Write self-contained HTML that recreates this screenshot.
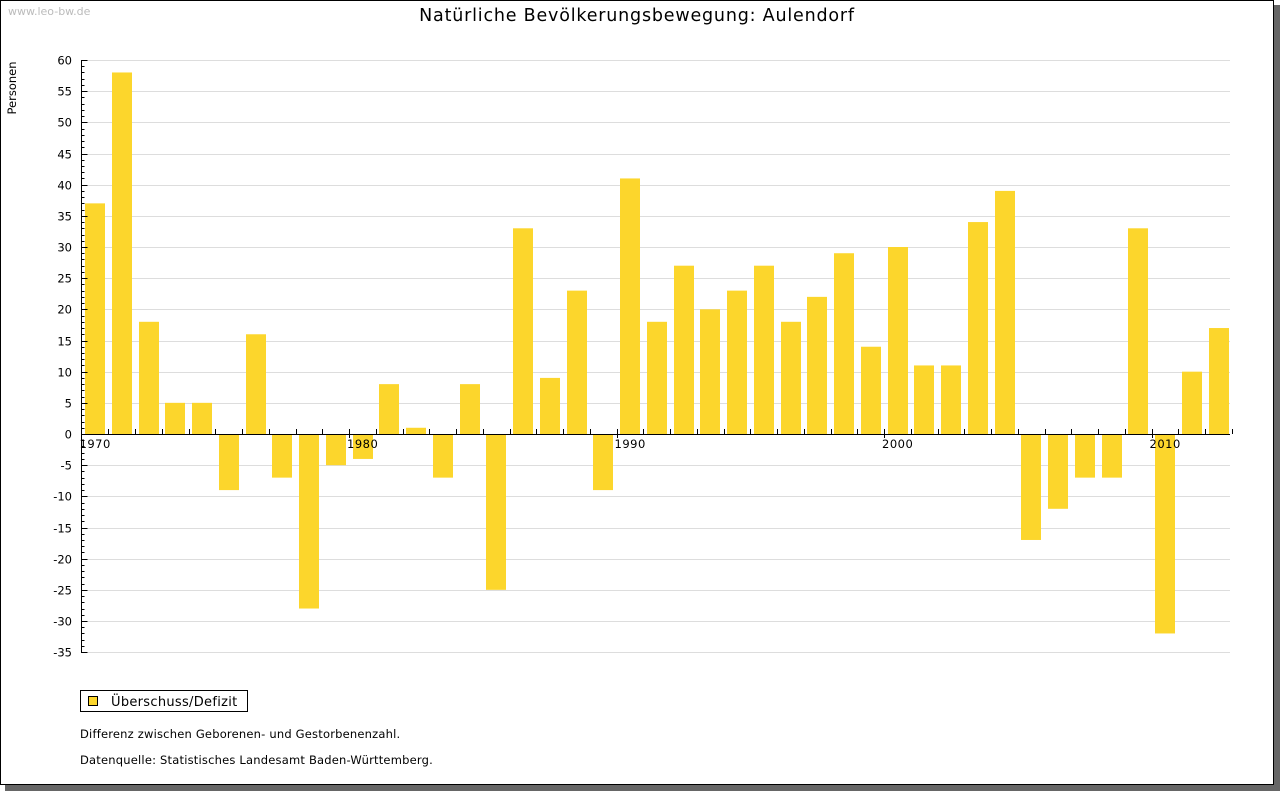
<!DOCTYPE html>
<html><head><meta charset="utf-8"><style>
body{margin:0;background:#fff;}
svg{display:block;font-family:"DejaVu Sans","Liberation Sans",sans-serif;}
</style></head><body>
<svg width="1280" height="791" xmlns="http://www.w3.org/2000/svg">
<rect x="5" y="5" width="1275" height="786" fill="#666"/>
<rect x="0.5" y="0.5" width="1273" height="784" fill="#fff" stroke="#000"/>
<text x="8" y="15" font-size="11" fill="#bbb">www.leo-bw.de</text>
<text x="637" y="21" font-size="17.5" letter-spacing="0.8" text-anchor="middle">Natürliche Bevölkerungsbewegung: Aulendorf</text>
<text transform="translate(16,88) rotate(-90)" font-size="11.5" text-anchor="middle">Personen</text>
<g id="grid" stroke="#ddd" stroke-width="1"></g>
<g id="bars" fill="#fcd62c"></g>
<g id="axis" stroke="#000" stroke-width="1"></g>
<g id="lbl" font-size="11.5" text-anchor="end"></g>
<rect x="80.5" y="690.5" width="167" height="21" fill="#fff" stroke="#000"/>
<rect x="88.5" y="696.5" width="9" height="9" fill="#fcd62c" stroke="#000"/>
<text x="111" y="706" font-size="13" letter-spacing="0.3">Überschuss/Defizit</text>
<text x="80" y="738" font-size="11.5" letter-spacing="0.2">Differenz zwischen Geborenen- und Gestorbenenzahl.</text>
<text x="80" y="764" font-size="11.5" letter-spacing="0.2">Datenquelle: Statistisches Landesamt Baden-Württemberg.</text>
</svg>
<script>
const ns="http://www.w3.org/2000/svg";
function el(p,t,a,txt){const e=document.createElementNS(ns,t);for(const k in a)e.setAttribute(k,a[k]);if(txt!=null)e.textContent=txt;document.getElementById(p).appendChild(e);}
const y0=434,pu=(434-60)/60,x0=81.5,step=26.75;
const Y=v=>y0-v*pu;
for(let v=-35;v<=60;v+=5){const y=Math.round(Y(v))+0.5;
 if(v!==0)el("grid","line",{x1:81,x2:1230,y1:y,y2:y});
 el("lbl","text",{x:72,y:y+4},String(v));}
const vals=[37,58,18,5,5,-9,16,-7,-28,-5,-4,8,1,-7,8,-25,33,9,23,-9,41,18,27,20,23,27,18,22,29,14,30,11,11,34,39,-17,-12,-7,-7,33,-32,10,17];
vals.forEach((v,i)=>{const x=Math.round(85+step*i);const a=Y(v);el("bars","rect",{x:x,y:Math.min(a,y0),width:20,height:Math.abs(a-y0)});});
el("axis","line",{x1:x0,x2:x0,y1:60,y2:653});
el("axis","line",{x1:x0,x2:1230,y1:y0+0.5,y2:y0+0.5});
for(let v=-35;v<=60;v++){const y=Math.round(Y(v))+0.5;el("axis","line",{x1:v%5?x0+3:x0+6,x2:x0,y1:y,y2:y});}
for(let i=1;i<=43;i++){const x=Math.round(x0+step*i)+0.5;el("axis","line",{x1:x,x2:x,y1:y0-5,y2:y0+(i%10==0?4:0)});}
[1970,1980,1990,2000,2010].forEach((yr,k)=>{el("lbl","text",{x:x0+step*10*k-2,y:448,"text-anchor":"start","letter-spacing":"0.5"},String(yr));});
</script>
</body></html>
